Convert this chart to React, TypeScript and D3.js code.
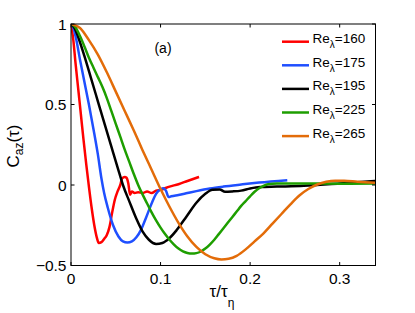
import React from 'react';
import * as d3 from 'd3';

// tau/tau_eta and C_az(tau), one array pair per Re_lambda
const tau160 = [0, 0.0026, 0.005, 0.008, 0.011, 0.014, 0.017, 0.02, 0.023, 0.026, 0.029, 0.031, 0.034, 0.037, 0.04, 0.043, 0.046, 0.049, 0.052, 0.055, 0.057, 0.06, 0.062, 0.064, 0.066, 0.068, 0.071, 0.075, 0.08, 0.085, 0.09, 0.095, 0.1, 0.11, 0.12, 0.13, 0.143];
const c160 = [1, 0.9, 0.76, 0.6, 0.44, 0.28, 0.13, -0.01, -0.14, -0.25, -0.33, -0.36, -0.355, -0.335, -0.31, -0.26, -0.17, -0.09, -0.04, 0.0, 0.04, 0.05, 0.045, 0.01, -0.06, -0.04, -0.05, -0.045, -0.05, -0.04, -0.05, -0.035, -0.03, -0.01, 0.005, 0.025, 0.05];

const tau175 = [0, 0.003, 0.006, 0.01, 0.015, 0.02, 0.025, 0.03, 0.034, 0.037, 0.041, 0.047, 0.053, 0.058, 0.063, 0.068, 0.073, 0.078, 0.084, 0.09, 0.095, 0.099, 0.103, 0.106, 0.109, 0.112, 0.12, 0.13, 0.14, 0.155, 0.17, 0.19, 0.21, 0.2415];
const c175 = [1, 0.97, 0.9, 0.78, 0.64, 0.5, 0.35, 0.19, 0.04, -0.05, -0.14, -0.25, -0.32, -0.35, -0.357, -0.35, -0.325, -0.28, -0.2, -0.115, -0.055, -0.03, -0.02, -0.035, -0.075, -0.07, -0.062, -0.05, -0.038, -0.022, -0.01, 0.003, 0.015, 0.03];

const tau195 = [0, 0.004, 0.0086, 0.015, 0.022, 0.03, 0.038, 0.045, 0.052, 0.058, 0.065, 0.073, 0.08, 0.087, 0.095, 0.102, 0.11, 0.118, 0.129, 0.14, 0.15, 0.158, 0.166, 0.172, 0.18, 0.19, 0.2, 0.211, 0.23, 0.26, 0.3, 0.34];
const c195 = [1, 0.975, 0.91, 0.8, 0.67, 0.52, 0.37, 0.24, 0.11, 0.0, -0.1, -0.21, -0.29, -0.34, -0.366, -0.36, -0.33, -0.28, -0.195, -0.11, -0.055, -0.03, -0.028, -0.042, -0.04, -0.035, -0.022, -0.013, -0.01, -0.005, 0.01, 0.025];

const tau225 = [0, 0.005, 0.01, 0.015, 0.02, 0.025, 0.03, 0.035, 0.04, 0.045, 0.05, 0.055, 0.06, 0.065, 0.07, 0.075, 0.08, 0.085, 0.09, 0.095, 0.1, 0.105, 0.11, 0.115, 0.12, 0.125, 0.13, 0.135, 0.14, 0.145, 0.15, 0.155, 0.16, 0.165, 0.17, 0.175, 0.18, 0.185, 0.19, 0.195, 0.2, 0.205, 0.21, 0.215, 0.22, 0.23, 0.26, 0.3, 0.34];
const c225 = [1, 0.98, 0.925, 0.86, 0.79, 0.73, 0.67, 0.61, 0.54, 0.46, 0.38, 0.3, 0.22, 0.145, 0.07, 0.0, -0.06, -0.115, -0.17, -0.22, -0.265, -0.305, -0.34, -0.37, -0.395, -0.412, -0.422, -0.426, -0.423, -0.413, -0.395, -0.37, -0.34, -0.305, -0.27, -0.235, -0.2, -0.165, -0.13, -0.1, -0.07, -0.042, -0.02, -0.005, 0.005, 0.01, 0.01, 0.008, 0.01];

const tau265 = [0, 0.01, 0.02, 0.03, 0.04, 0.05, 0.06, 0.07, 0.08, 0.09, 0.1, 0.11, 0.12, 0.13, 0.14, 0.15, 0.16, 0.168, 0.176, 0.185, 0.195, 0.205, 0.215, 0.225, 0.235, 0.245, 0.255, 0.265, 0.275, 0.285, 0.295, 0.305, 0.32, 0.34];
const c265 = [1, 0.975, 0.9, 0.81, 0.7, 0.58, 0.46, 0.34, 0.215, 0.095, -0.025, -0.135, -0.235, -0.32, -0.385, -0.43, -0.455, -0.462, -0.458, -0.44, -0.4, -0.35, -0.3, -0.24, -0.18, -0.12, -0.065, -0.025, 0.003, 0.02, 0.027, 0.027, 0.02, 0.014];

const reLabels = ['160', '175', '195', '225', '265'];
const colors = ['#ff0000', '#1f4fff', '#000000', '#1e9e00', '#e36c09'];
const xTicks = [0, 0.1, 0.2, 0.3];
const yTicks = [-0.5, 0, 0.5, 1];

const W = 415;
const H = 313;
const left = 71;
const top = 24;
const right = 375.5;
const bottom = 265.5;
const font = 'Liberation Sans, Arial, sans-serif';

export default function App() {
  const x = d3.scaleLinear().domain([0, 0.34]).range([left, right]);
  const y = d3.scaleLinear().domain([-0.5, 1]).range([bottom, top]);

  const series = [
    [tau160, c160],
    [tau175, c175],
    [tau195, c195],
    [tau225, c225],
    [tau265, c265],
  ];

  const line = d3
    .line<[number, number]>()
    .x((d) => x(d[0]))
    .y((d) => y(d[1]))
    .curve(d3.curveMonotoneX);

  const fmt = (v: number) => (v < 0 ? '\u2212' + String(-v) : String(v));

  return (
    <svg
      width={W}
      height={H}
      style={{ position: 'absolute', left: 0, top: 0, background: '#fff' }}
      fontFamily={font}
    >
      <defs>
        <clipPath id="plot">
          <rect x={left} y={top} width={right - left} height={bottom - top} />
        </clipPath>
      </defs>

      {/* curves */}
      <g clipPath="url(#plot)">
        {series.map(([ts, cs], i) => (
          <path
            key={i}
            d={line(ts.map((t, j) => [t, cs[j]] as [number, number])) || ''}
            fill="none"
            stroke={colors[i]}
            strokeWidth={2.5}
            strokeLinejoin="round"
          />
        ))}
      </g>

      {/* box */}
      <rect x={left} y={top} width={right - left} height={bottom - top} fill="none" stroke="#000" strokeWidth={1} />

      {/* ticks, inward on all four sides */}
      {xTicks.map((t) => (
        <g key={'x' + t}>
          <line x1={x(t)} x2={x(t)} y1={bottom} y2={bottom - 3.5} stroke="#000" />
          <line x1={x(t)} x2={x(t)} y1={top} y2={top + 3.5} stroke="#000" />
          <text x={x(t)} y={284} textAnchor="middle" fontSize={15.5}>
            {fmt(t)}
          </text>
        </g>
      ))}
      {yTicks.map((t) => (
        <g key={'y' + t}>
          <line x1={left} x2={left + 3.5} y1={y(t)} y2={y(t)} stroke="#000" />
          <line x1={right} x2={right - 3.5} y1={y(t)} y2={y(t)} stroke="#000" />
          <text x={66.5} y={y(t) + 5.5} textAnchor="end" fontSize={15.5}>
            {fmt(t)}
          </text>
        </g>
      ))}

      {/* axis labels */}
      <text x={222} y={297} textAnchor="middle" fontSize={17}>
        τ/τ
        <tspan fontSize={12} dy={10}>η</tspan>
      </text>
      <text transform="translate(18.5,146) rotate(-90)" textAnchor="middle" fontSize={17}>
        C
        <tspan fontSize={12} dy={4}>az</tspan>
        <tspan dy={-4}>(τ)</tspan>
      </text>

      <text x={163} y={53} textAnchor="middle" fontSize={14}>
        (a)
      </text>

      {/* legend */}
      {reLabels.map((r, i) => {
        const ly = 41.7 + i * 23.6;
        return (
          <g key={r}>
            <line x1={282} x2={309} y1={ly} y2={ly} stroke={colors[i]} strokeWidth={2.5} />
            <text x={312.5} y={ly + 1.5} fontSize={13.5}>
              Re
              <tspan fontSize={10} dy={5}>λ</tspan>
              <tspan dy={-5}>={r}</tspan>
            </text>
          </g>
        );
      })}
    </svg>
  );
}
